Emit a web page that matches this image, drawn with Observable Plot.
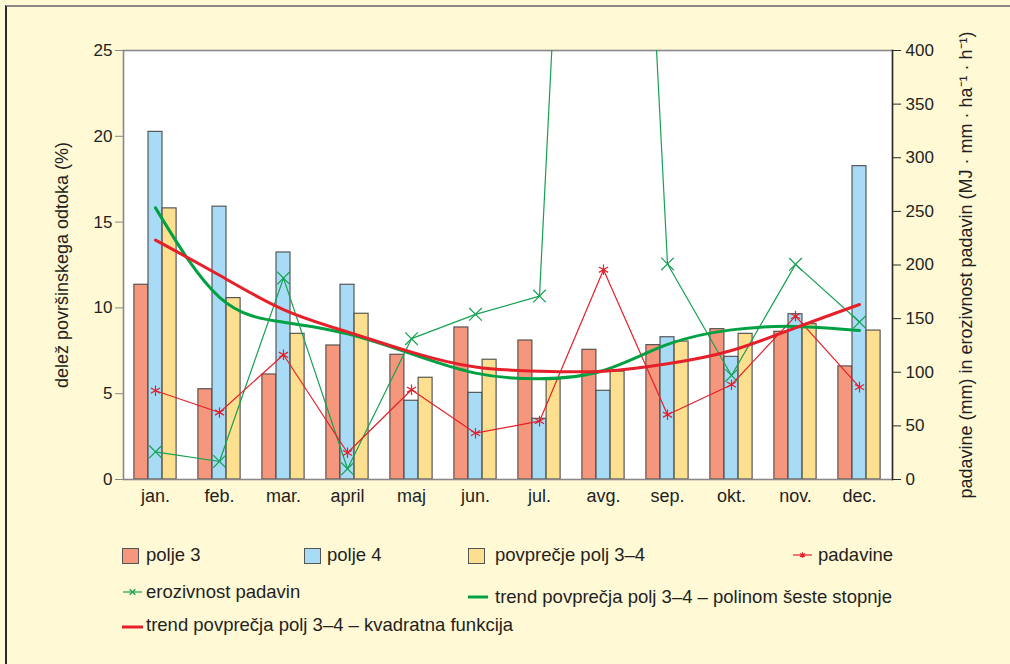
<!DOCTYPE html>
<html>
<head>
<meta charset="utf-8">
<script src="https://cdn.jsdelivr.net/npm/d3@7"></script>
<script src="https://cdn.jsdelivr.net/npm/@observablehq/plot@0.6"></script>
<style>
  html, body { margin: 0; padding: 0; background: #fff9d6; }
  #page { position: relative; width: 1010px; height: 664px; overflow: hidden; background: #fff9d6;
          font-family: "Liberation Sans", Arial, sans-serif; color: #231f20; }
  #frame { position: absolute; left: 5px; top: 5px; width: 1010px; height: 664px;
           border-top: 2px solid #8a8886; border-left: 2px solid #2a2a2a; box-sizing: border-box; }
  #chart { position: absolute; left: 0; top: 0; }
  .lg { position: absolute; font-size: 18.5px; line-height: 18px; white-space: nowrap; }
  .sw { position: absolute; width: 15px; height: 14px; border: 1px solid #555; box-sizing: content-box; }
</style>
</head>
<body>
<div id="page">
  <div id="frame"></div>
  <div id="chart"></div>
  <div id="legend"></div>
</div>
<script>
const months = ["jan.", "feb.", "mar.", "april", "maj", "jun.", "jul.", "avg.", "sep.", "okt.", "nov.", "dec."];
const polje3 = [11.35, 5.26, 6.12, 7.81, 7.27, 8.86, 8.1, 7.56, 7.83, 8.76, 8.61, 6.59];
const polje4 = [20.26, 15.9, 13.23, 11.35, 4.59, 5.05, 3.54, 5.17, 8.29, 7.15, 9.63, 18.26];
const povprecje = [15.8, 10.57, 8.49, 9.66, 5.93, 6.98, 5.83, 6.29, 8.04, 8.49, 9.05, 8.68];
const padavine = [82.8, 62.5, 116.3, 24.9, 83.7, 43.2, 54.4, 195.6, 60.4, 88.4, 152.4, 86.1];
const erozivnost = [25.8, 16.8, 187.8, 10, 131.3, 154, 171, 1365, 201, 97, 200.6, 146.8];
const trendKvadratna = [13.95, 11.9, 9.9, 8.6, 7.42, 6.55, 6.31, 6.31, 6.74, 7.52, 8.84, 10.2];
const trendPolinom = [15.83, 10.62, 9.17, 8.49, 7.32, 6.2, 5.87, 6.35, 7.87, 8.72, 8.92, 8.68];
const leftTicks = [0, 5, 10, 15, 20, 25];
const rightTicks = [0, 50, 100, 150, 200, 250, 300, 350, 400];
const leftTitle = "delež površinskega odtoka (%)";
const rightTitle = "padavine (mm) in erozivnost padavin (MJ · mm · ha⁻¹ · h⁻¹)";

const C = {
  polje3: "#f4977c", polje4: "#a8dcf6", povp: "#fde08f",
  red: "#e5202a", green: "#16a152", greenTrend: "#00a043", barStroke: "#4a4a4a"
};
const legendLabels = {
  polje3: "polje 3", polje4: "polje 4", povp: "povprečje polj 3–4", padavine: "padavine",
  erozivnost: "erozivnost padavin",
  polinom: "trend povprečja polj 3–4 – polinom šeste stopnje",
  kvadratna: "trend povprečja polj 3–4 – kvadratna funkcija"
};

const ratio = 400 / 25; // right axis units per left axis unit
const rows = months.map((m, i) => ({
  month: m, p3: polje3[i], p4: polje4[i], avg: povprecje[i],
  pad: padavine[i], ero: erozivnost[i], tq: trendKvadratna[i], tp: trendPolinom[i]
}));

const step = (1010 - 123 - 118) / months.length;
const bw = step * 0.22;

const plot = Plot.plot({
  width: 1010, height: 520,
  marginLeft: 123, marginRight: 118, marginTop: 50, marginBottom: 41,
  style: { fontFamily: "'Liberation Sans', Arial, sans-serif", fontSize: "17px", color: "#231f20", background: "transparent" },
  x: { domain: months, paddingInner: 0.78, paddingOuter: 0.39, label: null },
  y: { domain: [0, 25], label: null },
  marks: [
    Plot.frame({ fill: "white", stroke: null }),
    Plot.barY(rows, { x: "month", y: "p3", dx: -bw, fill: C.polje3, stroke: C.barStroke, strokeWidth: 1.1 }),
    Plot.barY(rows, { x: "month", y: "p4", fill: C.polje4, stroke: C.barStroke, strokeWidth: 1.1 }),
    Plot.barY(rows, { x: "month", y: "avg", dx: bw, fill: C.povp, stroke: C.barStroke, strokeWidth: 1.1 }),
    Plot.frame({ stroke: "#8a8886", strokeWidth: 1.6 }),
    Plot.frame({ anchor: "right", stroke: "#2a2a2a", strokeWidth: 1.4 }),
    Plot.line(rows, { x: "month", y: d => d.ero / ratio, stroke: C.green, strokeWidth: 1.2, clip: true }),
    Plot.dot(rows, { x: "month", y: d => d.ero / ratio, symbol: "times", r: 5.8, stroke: C.green, strokeWidth: 1.2, clip: true }),
    Plot.line(rows, { x: "month", y: d => d.pad / ratio, stroke: C.red, strokeWidth: 1.2 }),
    Plot.dot(rows, { x: "month", y: d => d.pad / ratio, symbol: "asterisk", r: 5, stroke: C.red, strokeWidth: 1.2 }),
    Plot.line(rows, { x: "month", y: "tp", curve: "natural", stroke: C.greenTrend, strokeWidth: 3 }),
    Plot.line(rows, { x: "month", y: "tq", curve: "natural", stroke: C.red, strokeWidth: 3 }),
    Plot.axisX({ tickSize: 0, tickPadding: 10, fontSize: 18, label: null }),
    Plot.axisY(leftTicks, { anchor: "left", tickSize: 8, tickPadding: 3, stroke: "#8a8886", label: null }),
    Plot.axisY(rightTicks.map(v => v / ratio), { anchor: "right", tickSize: 8, tickPadding: 5, stroke: "#2a2a2a",
      tickFormat: d => String(Math.round(d * ratio)), label: null }),
    Plot.text([leftTitle], { frameAnchor: "left", textAnchor: "middle", rotate: -90, dx: -61, fontSize: 18, fill: "#231f20" }),
    Plot.text([rightTitle], { frameAnchor: "right", textAnchor: "middle", rotate: -90, dx: 74, fontSize: 18, fill: "#231f20" })
  ]
});
document.getElementById("chart").appendChild(plot);

// Legend (HTML)
const legend = document.getElementById("legend");
function addText(txt, x, baseline) {
  const d = document.createElement("div");
  d.className = "lg"; d.textContent = txt;
  d.style.left = x + "px"; d.style.top = (baseline - 15) + "px";
  legend.appendChild(d);
}
function addSwatch(color, x, y) {
  const s = document.createElement("div");
  s.className = "sw"; s.style.background = color;
  s.style.left = x + "px"; s.style.top = y + "px";
  legend.appendChild(s);
}
function addLineMarker(color, x, y, w, sw, symbol) {
  const ns = "http://www.w3.org/2000/svg";
  const svg = document.createElementNS(ns, "svg");
  svg.setAttribute("width", w); svg.setAttribute("height", 12);
  svg.style.position = "absolute"; svg.style.left = x + "px"; svg.style.top = (y - 6) + "px";
  const l = document.createElementNS(ns, "line");
  l.setAttribute("x1", 0); l.setAttribute("x2", w); l.setAttribute("y1", 6); l.setAttribute("y2", 6);
  l.setAttribute("stroke", color); l.setAttribute("stroke-width", sw);
  svg.appendChild(l);
  if (symbol) {
    const p = document.createElementNS(ns, "path");
    p.setAttribute("d", d3.symbol(symbol, 22)());
    p.setAttribute("transform", `translate(${w / 2},6)`);
    p.setAttribute("stroke", color); p.setAttribute("fill", "none"); p.setAttribute("stroke-width", 1.2);
    svg.appendChild(p);
  }
  legend.appendChild(svg);
}
addSwatch(C.polje3, 122, 548); addText(legendLabels.polje3, 146, 561);
addSwatch(C.polje4, 304, 548); addText(legendLabels.polje4, 327, 561);
addSwatch(C.povp, 468, 548); addText(legendLabels.povp, 495, 561);
addLineMarker(C.red, 793, 555, 19, 1.2, d3.symbolAsterisk); addText(legendLabels.padavine, 818, 561);
addLineMarker(C.green, 123, 592, 19, 1.2, d3.symbolTimes); addText(legendLabels.erozivnost, 146, 598);
addLineMarker(C.greenTrend, 468, 597, 20, 3, null); addText(legendLabels.polinom, 495, 603);
addLineMarker(C.red, 122, 627, 21, 3, null); addText(legendLabels.kvadratna, 146, 631);
</script>
</body>
</html>
